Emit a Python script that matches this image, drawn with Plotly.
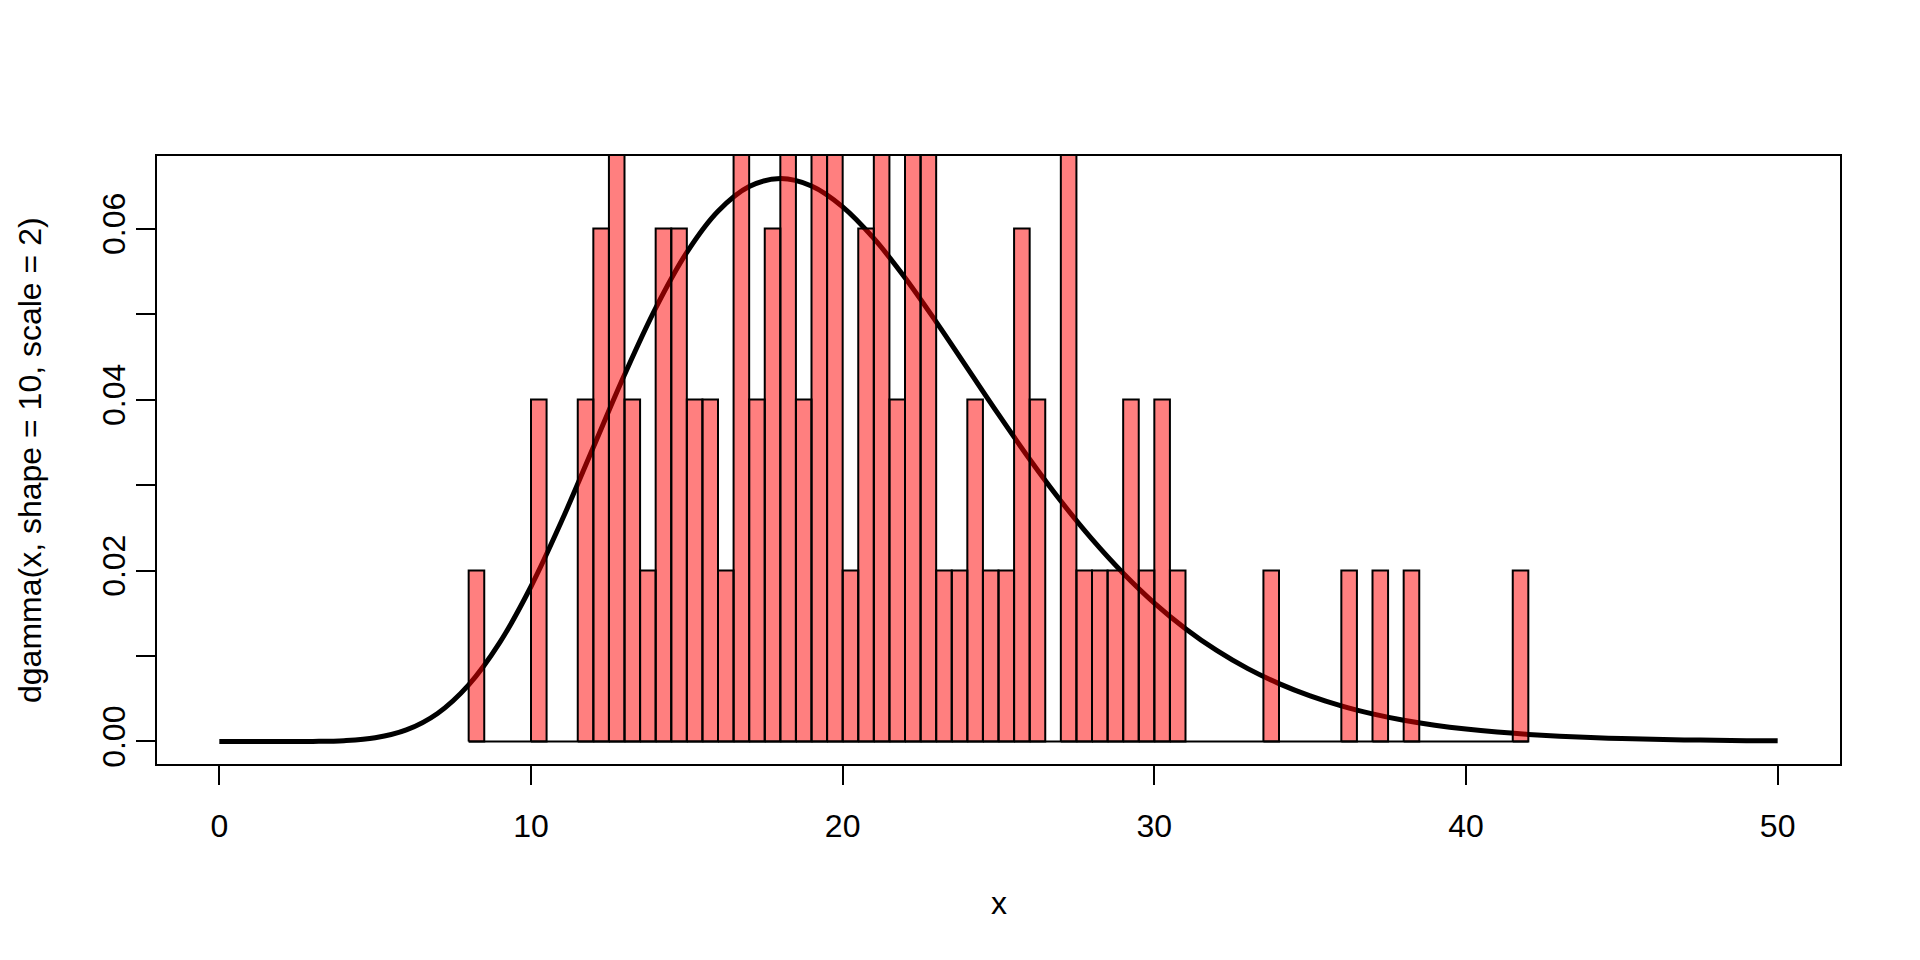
import plotly.graph_objects as go

# Histogram bins (left edges, width 0.5) with non-zero counts, n = 100
bin_width = 0.5
bin_left = [8, 10, 11.5, 12, 12.5, 13, 13.5, 14, 14.5, 15,
            15.5, 16, 16.5, 17, 17.5, 18, 18.5, 19, 19.5, 20,
            20.5, 21, 21.5, 22, 22.5, 23, 23.5, 24, 24.5, 25,
            25.5, 26, 27, 27.5, 28, 28.5, 29, 29.5, 30, 30.5,
            33.5, 36, 37, 38, 41.5]
bin_count = [1, 2, 2, 3, 4, 2, 1, 3, 3, 2,
             2, 1, 4, 2, 3, 5, 2, 5, 4, 1,
             3, 5, 2, 5, 4, 1, 1, 2, 1, 1,
             3, 2, 4, 1, 1, 1, 2, 1, 2, 1,
             1, 1, 1, 1, 1]

# Curve dgamma(x, shape = 10, scale = 2) read at integer x
curve_x = list(range(0, 51))
curve_y = [0.0, 1.6e-9, 5.06e-7, 1.18e-5, 9.53e-5, 4.31e-4, 1.349e-3, 3.279e-3, 6.62e-3, 0.01159,
           0.01813, 0.02593, 0.03442, 0.04290, 0.05070, 0.05722, 0.06203, 0.06492, 0.06586, 0.06499,
           0.06255, 0.05885, 0.05425, 0.04909, 0.04368, 0.03826, 0.03302, 0.02813, 0.02367, 0.01969,
           0.01620, 0.01320, 0.01065, 0.00852, 0.00677, 0.00533, 0.00416, 0.00323, 0.00249, 0.00191,
           0.001455, 0.001102, 0.000830, 0.000622, 0.000464, 0.000344, 0.000254, 0.000187, 0.000137, 0.000100,
           0.0000730]

x_ticks = [0, 10, 20, 30, 40, 50]
y_ticks = [0.0, 0.01, 0.02, 0.03, 0.04, 0.05, 0.06]
y_ticktext = ["0.00", "", "0.02", "", "0.04", "", "0.06"]

n = sum(bin_count)
density = [c / (n * bin_width) for c in bin_count]

# bar outlines as closed polygons so they sit above the curve (semi-transparent)
bx, by = [], []
for e, d in zip(bin_left, density):
    bx += [e, e, e + bin_width, e + bin_width, e, None]
    by += [0, d, d, 0, 0, None]

# R-style 4% axis expansion
xmin, xmax = min(curve_x), max(curve_x)
ymin, ymax = min(curve_y), max(curve_y)
xr = [xmin - 0.04 * (xmax - xmin), xmax + 0.04 * (xmax - xmin)]
yr = [ymin - 0.04 * (ymax - ymin), ymax + 0.04 * (ymax - ymin)]

FONT = "Liberation Sans, Arial, sans-serif"

fig = go.Figure()
fig.add_trace(go.Scatter(x=curve_x, y=curve_y, mode="lines",
                         line=dict(color="black", width=5, shape="spline"),
                         hoverinfo="skip", showlegend=False))
fig.add_trace(go.Scatter(x=bx, y=by, mode="lines", fill="toself",
                         fillcolor="rgba(255,0,0,0.5)",
                         line=dict(color="black", width=2),
                         connectgaps=False, showlegend=False))
# baseline of the empty histogram cells
fig.add_trace(go.Scatter(x=[bin_left[0], bin_left[-1] + bin_width], y=[0, 0], mode="lines",
                         line=dict(color="black", width=2), showlegend=False))

axis_common = dict(showgrid=False, zeroline=False, showline=True, mirror=True,
                   linecolor="black", linewidth=2, ticks="outside", ticklen=19,
                   tickwidth=2, tickcolor="black",
                   tickfont=dict(family=FONT, size=32, color="black"))

# page body has an 8px offset; plot area spans x 157-1840, y 156-764 on the page
fig.update_layout(
    width=1920, height=960,
    paper_bgcolor="white", plot_bgcolor="white",
    margin=dict(l=149, r=88, t=148, b=204),
    xaxis=dict(range=xr, tickvals=x_ticks, ticktext=[str(v) for v in x_ticks],
               ticklabelstandoff=14, **axis_common),
    yaxis=dict(range=yr, tickvals=y_ticks, ticktext=y_ticktext, tickangle=-90,
               ticklabelstandoff=-2, **axis_common),
    annotations=[
        dict(text="x", xref="paper", yref="paper", x=0.5, y=(764 - 903) / 608,
             xanchor="center", yanchor="middle", showarrow=False,
             font=dict(family=FONT, size=32, color="black")),
        dict(text="dgamma(x, shape = 10, scale = 2)", xref="paper", yref="paper",
             x=(30 - 157) / 1683, y=0.5, textangle=-90,
             xanchor="center", yanchor="middle", showarrow=False,
             font=dict(family=FONT, size=32, color="black")),
    ],
)

fig.write_html("out.html")
